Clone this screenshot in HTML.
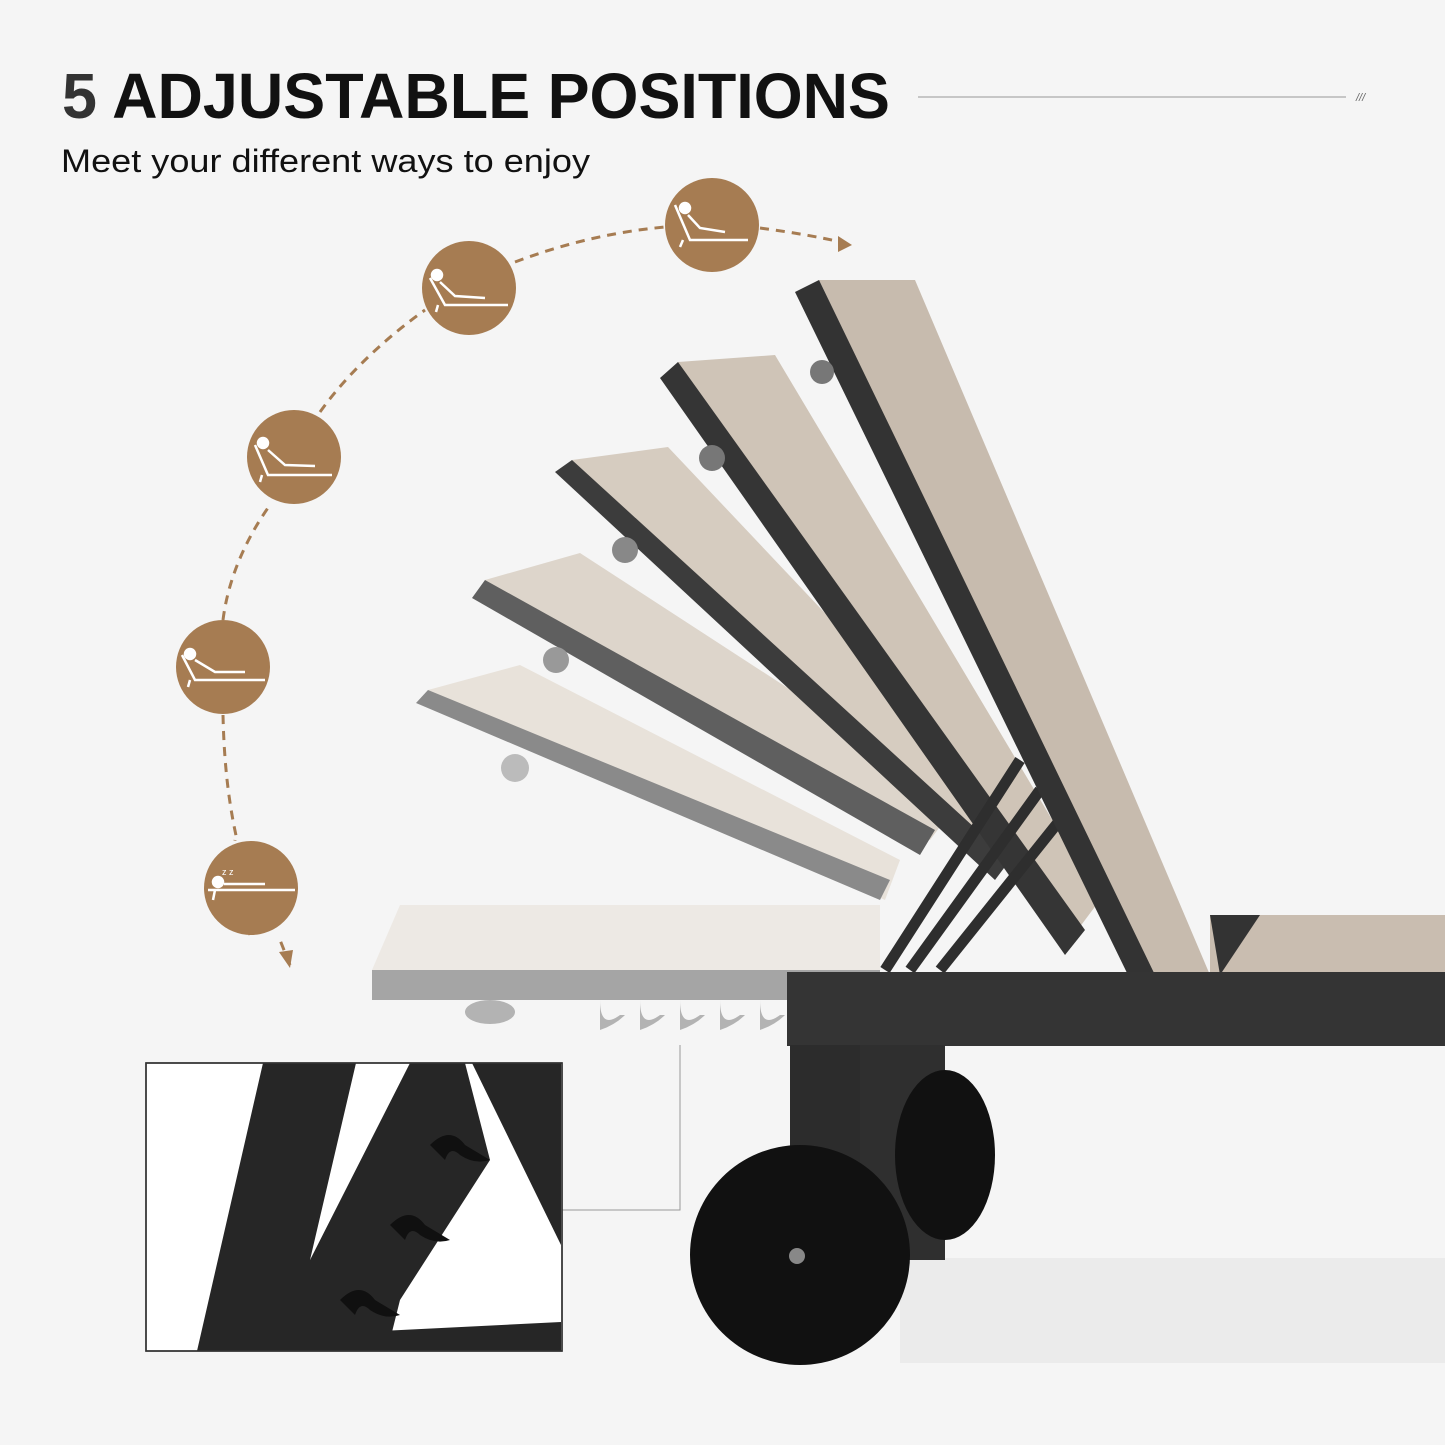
<!DOCTYPE html>
<html><head><meta charset="utf-8"><style>
html,body{margin:0;padding:0;background:#f5f5f5;}
svg{display:block}
</style></head><body>
<svg width="1445" height="1445" viewBox="0 0 1445 1445" xmlns="http://www.w3.org/2000/svg" font-family="Liberation Sans, sans-serif">
<rect width="1445" height="1445" fill="#f5f5f5"/>
<text x="62" y="118" font-size="64" font-weight="bold" fill="#111" textLength="828" lengthAdjust="spacingAndGlyphs"><tspan fill="#333">5</tspan> ADJUSTABLE POSITIONS</text>
<line x1="918" y1="97" x2="1346" y2="97" stroke="#aaa" stroke-width="1.2"/>
<text x="1356" y="101" font-size="11" fill="#666" font-style="italic">///</text>
<text x="61" y="172" font-size="32" fill="#111" textLength="529" lengthAdjust="spacingAndGlyphs">Meet your different ways to enjoy</text>

<rect x="900" y="1258" width="545" height="105" fill="#ebebeb"/>

<path d="M290 965 L280 940 M250 935 C240 900 232 860 235 840 M223 715 C224 760 228 800 237 840 M223 620 C228 580 245 540 270 505 M320 412 C350 370 390 335 425 310 M515 262 C560 245 610 232 665 227 M760 228 C790 232 820 237 845 243" fill="none" stroke="#a67c52" stroke-width="3" stroke-dasharray="9 7"/>
<polygon points="852,245 838,236 838,252" fill="#a67c52"/>
<polygon points="290,968 279,952 293,950" fill="#a67c52"/>

<g fill="#a67c52">
<circle cx="712" cy="225" r="47"/><circle cx="469" cy="288" r="47"/><circle cx="294" cy="457" r="47"/><circle cx="223" cy="667" r="47"/><circle cx="251" cy="888" r="47"/>
</g>
<g stroke="#fff" stroke-width="2.5" fill="none">
<path d="M675 205 L690 240 L748 240 M683 240 L680 247"/><circle cx="685" cy="208" r="5" fill="#fff"/><path d="M688 215 L700 228 L725 232"/>
<path d="M430 278 L445 305 L508 305 M438 305 L436 312"/><circle cx="437" cy="275" r="5" fill="#fff"/><path d="M440 282 L455 296 L485 298"/>
<path d="M255 445 L268 475 L332 475 M262 475 L260 482"/><circle cx="263" cy="443" r="5" fill="#fff"/><path d="M268 450 L285 465 L315 466"/>
<path d="M182 655 L195 680 L265 680 M190 680 L188 687"/><circle cx="190" cy="654" r="5" fill="#fff"/><path d="M195 660 L215 672 L245 672"/>
<path d="M208 890 L295 890 M215 890 L213 900"/><circle cx="218" cy="882" r="5" fill="#fff"/><path d="M224 884 L265 884"/>
</g>
<text x="222" y="875" font-size="9" fill="#fff">z z</text>

<polygon points="372,970 400,905 880,905 880,970" fill="#ede9e4"/>
<polygon points="372,970 880,970 880,1000 372,1000" fill="#a5a5a5"/>
<g fill="#b3b3b3"><path d="M600 1000 q0 30 20 15 l5 0 q-10 10 -25 15z M640 1000 q0 30 20 15 l5 0 q-10 10 -25 15z M680 1000 q0 30 20 15 l5 0 q-10 10 -25 15z M720 1000 q0 30 20 15 l5 0 q-10 10 -25 15z M760 1000 q0 30 20 15 l5 0 q-10 10 -25 15z"/><ellipse cx="490" cy="1012" rx="25" ry="12"/></g>

<polygon points="428,690 520,665 900,860 885,900" fill="#e8e2da"/>
<polygon points="416,703 428,690 890,880 880,900" fill="#8a8a8a"/>
<circle cx="515" cy="768" r="14" fill="#bbb"/>
<polygon points="485,580 580,553 960,800 930,840" fill="#ddd5cb"/>
<polygon points="472,598 485,580 935,830 920,855" fill="#5f5f5f"/>
<circle cx="556" cy="660" r="13" fill="#999"/>
<polygon points="572,460 668,447 1030,830 1000,870" fill="#d6ccc0"/>
<polygon points="555,472 572,460 1010,860 995,880" fill="#3c3c3c"/>
<circle cx="625" cy="550" r="13" fill="#888"/>
<polygon points="678,362 775,355 1100,900 1070,940" fill="#cfc4b7"/>
<polygon points="660,378 678,362 1085,930 1065,955" fill="#353535"/>
<circle cx="712" cy="458" r="13" fill="#777"/>
<g stroke="#2e2e2e" stroke-width="11"><line x1="1020" y1="760" x2="885" y2="970"/><line x1="1040" y1="790" x2="910" y2="970"/><line x1="1060" y1="820" x2="940" y2="970"/></g>
<polygon points="1210,915 1445,915 1445,975 1210,975" fill="#c9bdb0"/>
<polygon points="1210,915 1260,915 1220,975" fill="#333"/>
<polygon points="819,280 915,280 1210,975 1152,975" fill="#c7bbae"/>
<polygon points="795,292 819,280 1155,975 1128,975" fill="#333"/>
<circle cx="822" cy="372" r="12" fill="#777"/>

<rect x="787" y="972" width="658" height="74" fill="#343434"/>
<rect x="860" y="1045" width="85" height="215" fill="#2f2f2f"/>
<ellipse cx="945" cy="1155" rx="50" ry="85" fill="#111"/>
<rect x="790" y="1045" width="70" height="120" fill="#2c2c2c"/>
<circle cx="800" cy="1255" r="110" fill="#111"/>
<circle cx="797" cy="1256" r="8" fill="#888"/>

<polyline points="562,1210 680,1210 680,1045" fill="none" stroke="#999" stroke-width="1"/>
<rect x="146" y="1063" width="416" height="288" fill="#fff" stroke="#333" stroke-width="1.5"/>
<g fill="#262626">
<polygon points="197,1351 263,1063 356,1063 310,1260 310,1351"/>
<polygon points="310,1260 410,1063 465,1063 490,1160 400,1300 390,1340 310,1351"/>
<polygon points="472,1063 561,1063 561,1245"/>
<polygon points="300,1335 561,1322 561,1351 300,1351"/>
</g>
<g fill="#101010"><path d="M430 1145 q20 -20 35 0 l25 15 q-15 5 -30 -5 q-10 -10 -15 5 z M390 1225 q20 -20 35 0 l25 15 q-15 5 -30 -5 q-10 -10 -15 5 z M340 1300 q20 -20 35 0 l25 15 q-15 5 -30 -5 q-10 -10 -15 5 z"/></g>
<rect x="146" y="1063" width="416" height="288" fill="none" stroke="#333" stroke-width="1.5"/>
</svg>
</body></html>
